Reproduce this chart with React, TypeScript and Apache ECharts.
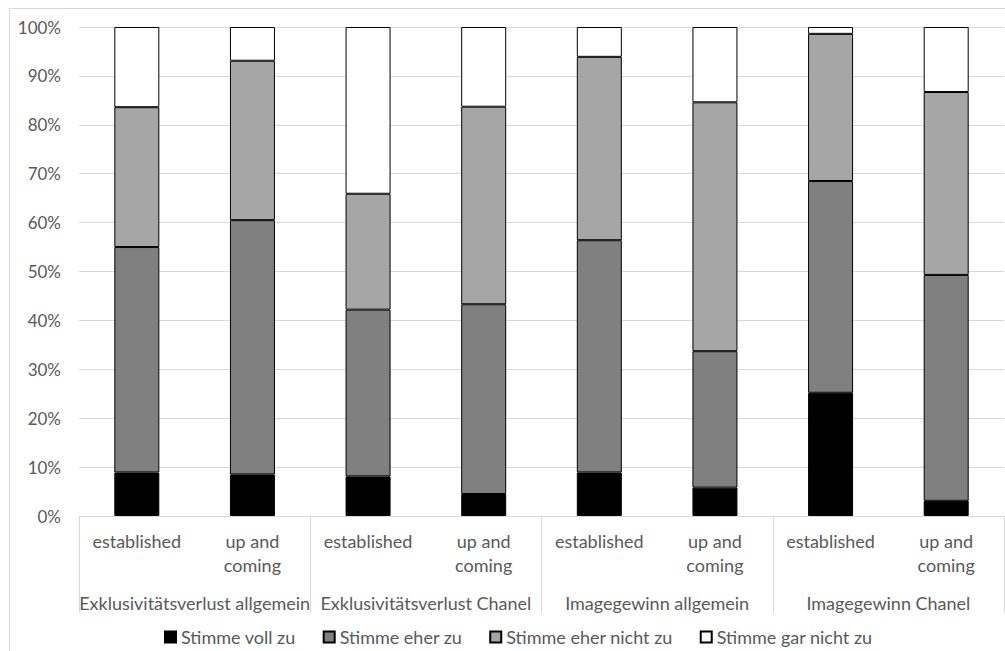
import React, { useEffect, useRef } from "react";
import * as echarts from "echarts";

const categories = [
  "established", "up and\ncoming",
  "established", "up and\ncoming",
  "established", "up and\ncoming",
  "established", "up and\ncoming",
];
const groups = [
  "Exklusivitätsverlust allgemein",
  "Exklusivitätsverlust Chanel",
  "Imagegewinn allgemein",
  "Imagegewinn Chanel",
];
const seriesNames = ["Stimme voll zu", "Stimme eher zu", "Stimme eher nicht zu", "Stimme gar nicht zu"];
const vollZu = [8.9, 8.5, 8.1, 4.5, 8.9, 5.8, 25.2, 3.1];
const eherZu = [46.1, 52.0, 34.1, 38.8, 47.5, 27.9, 43.3, 46.2];
const eherNichtZu = [28.6, 32.6, 23.7, 40.4, 37.5, 50.9, 30.1, 37.4];
const garNichtZu = [16.4, 6.9, 34.1, 16.3, 6.1, 15.4, 1.4, 13.3];
const yTicks = [0, 100, 10];

const colors = ["#000000", "#808080", "#a6a6a6", "#ffffff"];
const FONT = "Lato";
const FS = 18;
const TXT = "#595959";
const GRID = "#d9d9d9";

export default function App() {
  const ref = useRef<HTMLDivElement>(null);
  useEffect(() => {
    document.body.style.margin = "0";
    const chart = echarts.init(ref.current!, null, { renderer: "svg" });
    const data = [vollZu, eherZu, eherNichtZu, garNichtZu];
    chart.setOption({
      animation: false,
      backgroundColor: "#ffffff",
      textStyle: { fontFamily: FONT },
      grid: { left: 79, top: 27, right: 1, bottom: 135, containLabel: false },
      legend: {
        left: 159,
        top: 623,
        itemWidth: 11,
        itemHeight: 11,
        itemGap: 27,
        icon: "rect",
        textStyle: { color: TXT, fontSize: FS, fontFamily: FONT, padding: [0, 0, 0, 0] },
        data: seriesNames,
      },
      xAxis: [
        {
          type: "category",
          data: categories,
          position: "bottom",
          axisLine: { show: true, lineStyle: { color: GRID, width: 1 } },
          axisTick: { show: false },
          axisLabel: { color: TXT, fontSize: FS, fontFamily: FONT, lineHeight: 24, margin: 13, interval: 0 },
        },
        {
          type: "category",
          data: groups,
          position: "bottom",
          axisLine: { show: false },
          axisTick: { show: true, length: 97, lineStyle: { color: GRID, width: 1 } },
          axisLabel: { color: TXT, fontSize: FS, fontFamily: FONT, lineHeight: 22, margin: 76, interval: 0 },
        },
      ],
      yAxis: {
        type: "value",
        min: yTicks[0],
        max: yTicks[1],
        interval: yTicks[2],
        axisLine: { show: false },
        axisTick: { show: false },
        splitLine: { lineStyle: { color: GRID, width: 1 } },
        axisLabel: { color: TXT, fontSize: 17, fontFamily: FONT, margin: 18, formatter: "{value}%" },
      },
      series: data.map((d, i) => ({
        name: seriesNames[i],
        type: "bar",
        stack: "total",
        xAxisIndex: 0,
        barWidth: 45,
        data: d,
        itemStyle: { color: colors[i], borderColor: "#000000", borderWidth: 1 },
      })),
      graphic: [
        {
          type: "rect",
          shape: { x: 9.5, y: 8.5, width: 1100, height: 700 },
          style: { fill: "none", stroke: GRID, lineWidth: 1 },
          silent: true,
          z: -1,
        },
      ],
    });
    return () => chart.dispose();
  }, []);
  return <div ref={ref} style={{ width: 1005, height: 651 }} />;
}
